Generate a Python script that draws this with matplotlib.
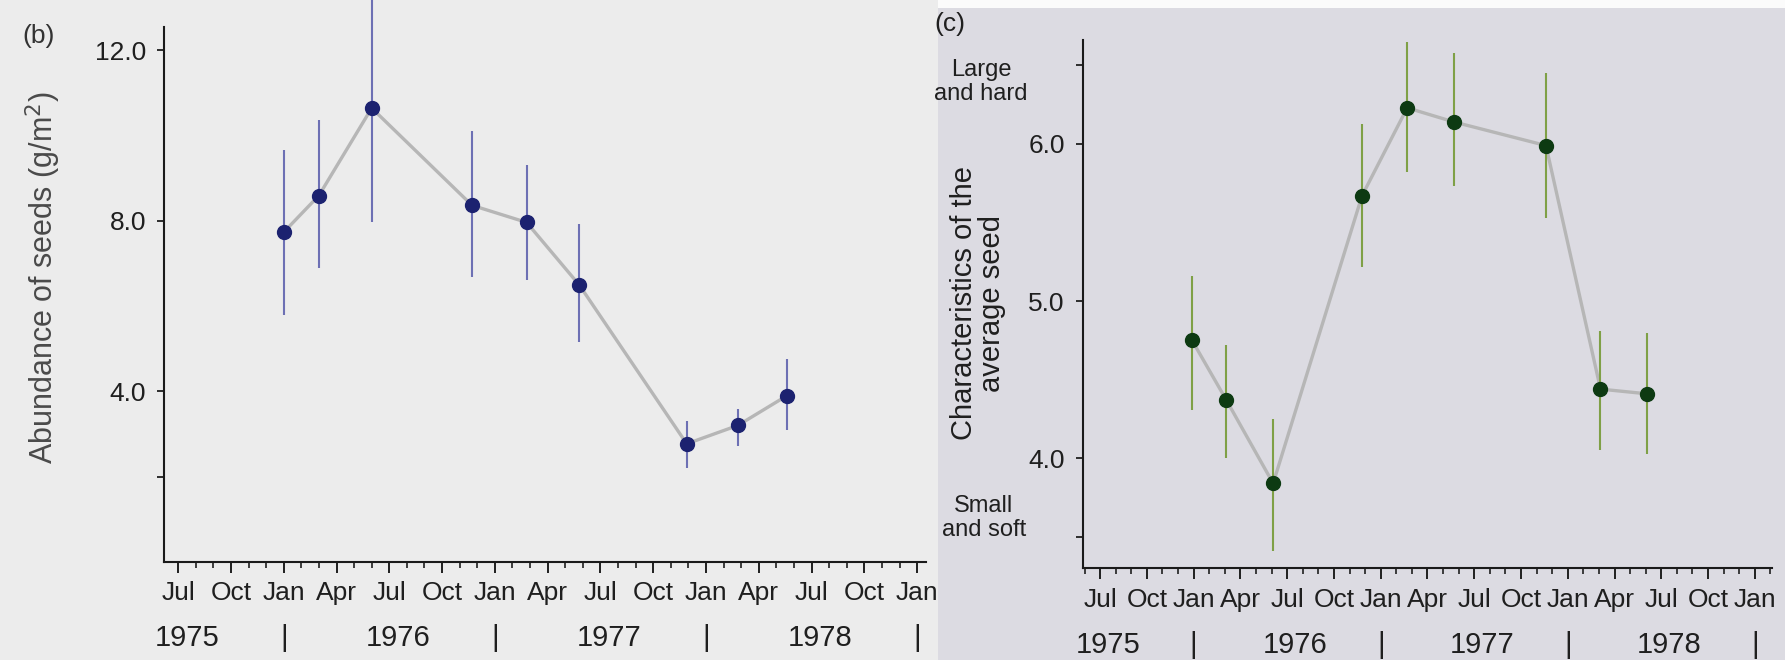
import matplotlib
matplotlib.use("Agg")
import matplotlib.pyplot as plt
from matplotlib.patches import Rectangle
from matplotlib.ticker import MultipleLocator, FixedLocator

plt.rcParams['font.family'] = ['Liberation Sans', 'DejaVu Sans']

# x positions are months counted from Jul 1975
month_labels = ["Jul", "Oct", "Jan", "Apr", "Jul", "Oct", "Jan", "Apr",
                "Jul", "Oct", "Jan", "Apr", "Jul", "Oct", "Jan"]
year_labels = ["1975", "|", "1976", "|", "1977", "|", "1978", "|"]
year_pos = [0.5, 6, 12.5, 18, 24.5, 30, 36.5, 42]

# (b) abundance of seeds
b_month = [6, 8, 11, 16.7, 19.8, 22.8, 28.9, 31.8, 34.6]
b_mean = [7.73, 8.59, 10.64, 8.36, 7.96, 6.49, 2.77, 3.20, 3.90]
b_low = [5.80, 6.90, 7.98, 6.67, 6.60, 5.15, 2.20, 2.73, 3.10]
b_high = [9.65, 10.35, 13.3, 10.10, 9.30, 7.93, 3.30, 3.58, 4.76]

# (c) characteristics of the average seed
c_month = [5.9, 8.1, 11.1, 16.8, 19.7, 22.7, 28.6, 32.1, 35.1]
c_mean = [4.75, 4.37, 3.84, 5.67, 6.23, 6.14, 5.99, 4.44, 4.41]
c_low = [4.31, 4.00, 3.41, 5.22, 5.82, 5.73, 5.53, 4.05, 4.03]
c_high = [5.16, 4.72, 4.25, 6.13, 6.65, 6.58, 6.45, 4.81, 4.80]

TXT = "#1f1f1f"
FS = 19

fig = plt.figure(figsize=(17.85, 6.6), dpi=100)
fig.patch.set_facecolor("#ececec")
# right page of the photo is a bit darker, with a white strip on top
fig.patches.append(Rectangle((0.5255, 0), 0.4745, 0.988, transform=fig.transFigure,
                             facecolor="#dcdbe2", edgecolor="none", zorder=-10))
fig.patches.append(Rectangle((0.5255, 0.988), 0.4745, 0.012, transform=fig.transFigure,
                             facecolor="#fbfbfb", edgecolor="none", zorder=-10))


def style_axes(ax, xlim):
    ax.set_facecolor("none")
    for s in ["top", "right"]:
        ax.spines[s].set_visible(False)
    for s in ["left", "bottom"]:
        ax.spines[s].set_linewidth(1.5)
        ax.spines[s].set_color("#1a1a1a")
    ax.set_xlim(*xlim)
    ax.xaxis.set_major_locator(MultipleLocator(3))
    ax.xaxis.set_minor_locator(MultipleLocator(1))
    ax.set_xticks(range(0, 43, 3))
    ax.set_xticklabels(month_labels)
    ax.tick_params(axis="x", which="major", length=8, width=1.4, pad=6,
                   labelsize=FS, colors=TXT)
    ax.tick_params(axis="x", which="minor", length=4.5, width=1.2, colors=TXT)
    ax.tick_params(axis="y", which="both", length=5, width=1.3, pad=8,
                   labelsize=FS, colors=TXT)
    for lab, x in zip(year_labels, year_pos):
        ax.annotate(lab, xy=(x, 0), xycoords=("data", "axes fraction"),
                    xytext=(0, -55), textcoords="offset points",
                    ha="center", va="center", fontsize=FS + 2, color=TXT,
                    annotation_clip=False)


def draw_series(ax, x, mean, low, high, mcol, ecol):
    ax.plot(x, mean, color="#b6b6b6", lw=2.4, zorder=2, clip_on=False)
    yerr = [[m - l for m, l in zip(mean, low)], [h - m for m, h in zip(mean, high)]]
    ax.errorbar(x, mean, yerr=yerr, fmt="none", ecolor=ecol, elinewidth=1.5,
                capsize=0, zorder=3, clip_on=False)
    ax.plot(x, mean, "o", color=mcol, ms=10, zorder=4, clip_on=False)


# panel (b)
axb = fig.add_axes([0.0919, 0.1485, 0.4269, 0.8106])
style_axes(axb, (-0.8, 42.5))
axb.set_ylim(0, 12.54)
axb.yaxis.set_major_locator(FixedLocator([2, 4, 8, 12]))
axb.set_yticklabels(["", "4.0", "8.0", "12.0"])
draw_series(axb, b_month, b_mean, b_low, b_high, "#1c2270", "#6d70b4")
fig.text(43 / 1785, 1 - 278 / 660, "Abundance of seeds (g/m$^2$)", rotation=90,
         ha="center", va="center", fontsize=22, color="#4a4a4a")
fig.text(39 / 1785, 1 - 36 / 660, "(b)", ha="center", va="center",
         fontsize=FS, color="#333333")

# panel (c)
axc = fig.add_axes([0.6067, 0.139, 0.386, 0.8])
style_axes(axc, (-1.1, 43.1))
axc.set_ylim(3.30, 6.66)
axc.yaxis.set_major_locator(FixedLocator([3.5, 4, 5, 6, 6.5]))
axc.set_yticklabels(["", "4.0", "5.0", "6.0", ""])
draw_series(axc, c_month, c_mean, c_low, c_high, "#0d3a12", "#7fa046")
fig.text(978 / 1785, 1 - 303 / 660, "Characteristics of the\naverage seed",
         rotation=90, ha="center", va="center", fontsize=21,
         color=TXT, linespacing=1.0)
fig.text(950 / 1785, 1 - 24 / 660, "(c)", ha="center", va="center",
         fontsize=FS, color=TXT)
fig.text(981 / 1785, 1 - 82 / 660, "Large\nand hard", ha="center", va="center",
         fontsize=FS - 2, color=TXT, linespacing=1.15)
fig.text(984 / 1785, 1 - 518 / 660, "Small\nand soft", ha="center", va="center",
         fontsize=FS - 2, color=TXT, linespacing=1.15)

fig.savefig("out.png", dpi=100, facecolor=fig.get_facecolor())
